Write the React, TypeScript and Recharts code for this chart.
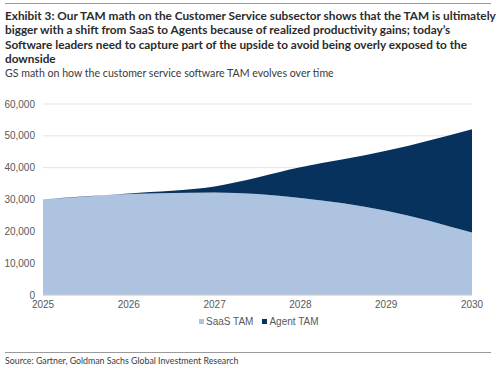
import React from 'react';
import { AreaChart, Area, XAxis, YAxis, CartesianGrid } from 'recharts';

const years = ['2025', '2026', '2027', '2028', '2029', '2030'];
const saasTam = [30000, 31700, 32200, 30500, 26500, 19600];
const agentTam = [0, 200, 1900, 9600, 18800, 32500];
const yTicks = [0, 10000, 20000, 30000, 40000, 50000, 60000];

const SAAS_COLOR = '#adc3df';
const AGENT_COLOR = '#08325e';

const titleLines = [
  'Exhibit 3: Our TAM math on the Customer Service subsector shows that the TAM is ultimately',
  'bigger with a shift from SaaS to Agents because of realized productivity gains; today’s',
  'Software leaders need to capture part of the upside to avoid being overly exposed to the',
  'downside',
];

const data = years.map((year, i) => ({
  year,
  saas: saasTam[i],
  agent: agentTam[i],
}));

const App: React.FC = () => {
  const tick = { fill: '#595959', fontSize: 10, fontFamily: 'Liberation Sans, Arial, sans-serif' };
  return (
    <div
      style={{
        position: 'absolute',
        left: 0,
        top: 0,
        width: 500,
        height: 368,
        background: '#fff',
        overflow: 'hidden',
        fontFamily: 'Lato, sans-serif',
      }}
    >
      <div style={{ position: 'absolute', left: 5, top: 3, width: 486, borderTop: '1px solid #9a9a9a' }} />
      <div
        style={{
          position: 'absolute',
          left: 5,
          top: 9,
          fontWeight: 700,
          fontSize: 11.8,
          lineHeight: '14.3px',
          color: '#2b2b2b',
          whiteSpace: 'nowrap',
        }}
      >
        {titleLines.map((line) => (
          <div key={line}>{line}</div>
        ))}
      </div>
      <div
        style={{
          position: 'absolute',
          left: 5,
          top: 66,
          fontSize: 10.6,
          lineHeight: '14px',
          color: '#3a3a3a',
          whiteSpace: 'nowrap',
        }}
      >
        GS math on how the customer service software TAM evolves over time
      </div>

      <div style={{ position: 'absolute', left: 0, top: 95 }}>
        <AreaChart width={500} height={222} data={data} margin={{ top: 9, right: 28, bottom: 0, left: 0 }}>
          <CartesianGrid vertical={false} stroke="#e3e3e3" />
          <XAxis
            dataKey="year"
            tick={tick}
            tickLine={false}
            axisLine={{ stroke: '#d0d0d0' }}
            height={22}
            tickMargin={0}
            interval={0}
          />
          <YAxis
            ticks={yTicks}
            domain={[0, 60000]}
            tick={tick}
            tickLine={false}
            axisLine={false}
            width={43}
            tickFormatter={(v: number) => v.toLocaleString('en-US')}
          />
          <Area
            type="monotone"
            dataKey="saas"
            stackId="tam"
            stroke="none"
            fill={SAAS_COLOR}
            fillOpacity={1}
            isAnimationActive={false}
          />
          <Area
            type="monotone"
            dataKey="agent"
            stackId="tam"
            stroke="none"
            fill={AGENT_COLOR}
            fillOpacity={1}
            isAnimationActive={false}
          />
        </AreaChart>
      </div>

      <div
        style={{
          position: 'absolute',
          left: 199,
          top: 316,
          display: 'flex',
          alignItems: 'center',
          fontSize: 10,
          fontFamily: 'Liberation Sans, Arial, sans-serif',
          color: '#595959',
          whiteSpace: 'nowrap',
        }}
      >
        <span style={{ width: 5, height: 5, background: SAAS_COLOR, marginRight: 2 }} />
        <span style={{ marginRight: 9 }}>SaaS TAM</span>
        <span style={{ width: 5, height: 5, background: AGENT_COLOR, marginRight: 2 }} />
        <span>Agent TAM</span>
      </div>

      <div style={{ position: 'absolute', left: 5, top: 352, width: 486, borderTop: '1px solid #9a9a9a' }} />
      <div
        style={{
          position: 'absolute',
          left: 5,
          top: 355,
          fontSize: 8.8,
          lineHeight: '12px',
          color: '#3a3a3a',
          whiteSpace: 'nowrap',
        }}
      >
        Source: Gartner, Goldman Sachs Global Investment Research
      </div>
    </div>
  );
};

export default App;
